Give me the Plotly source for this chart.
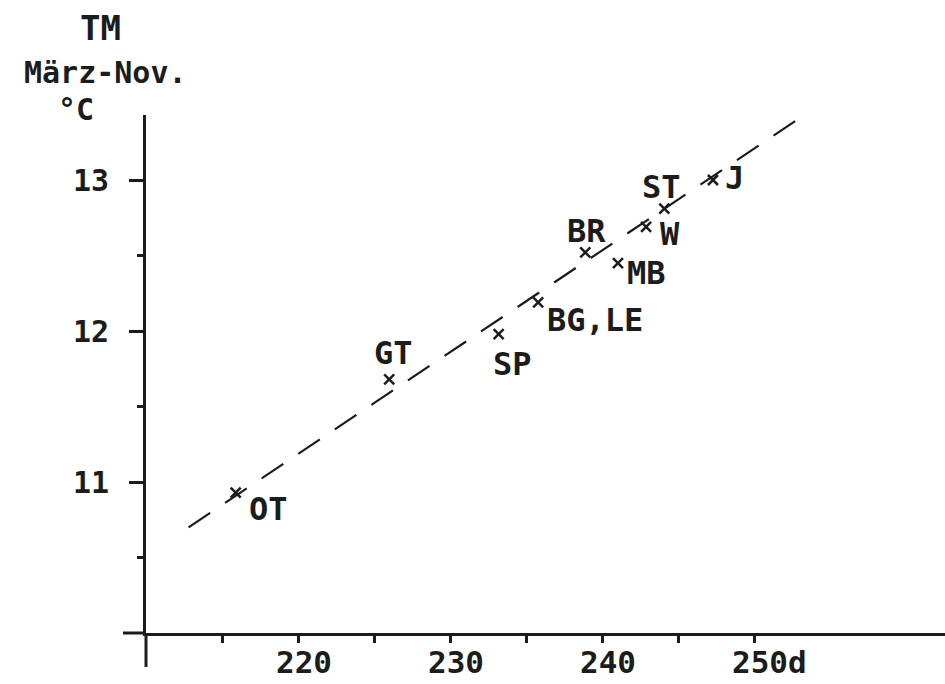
import plotly.graph_objects as go

# ---- data ----
stations = ["OT", "GT", "SP", "BG,LE", "BR", "MB", "W", "ST", "J"]
days = [215.9, 226.0, 233.2, 235.8, 238.9, 241.05, 242.9, 244.1, 247.3]
temp = [10.93, 11.68, 11.98, 12.19, 12.52, 12.45, 12.69, 12.81, 13.00]

fit_days = [212.8, 253.6]
fit_temp = [10.70, 13.45]

x_tickvals = [215, 220, 225, 230, 235, 240, 245, 250]
x_ticktext = ["", "220", "", "230", "", "240", "", "\u00a0250d"]
y_tickvals = [11, 12, 13]
y_ticktext = ["11", "12", "13"]
y_minor = [10.5, 11.5, 12.5]

# ---- styling ----
FONT = "DejaVu Sans Mono"
INK = "#1c1c1c"
# (xanchor, xshift, yshift) for each station label
label_pos = [
    ("left", 11, -16),
    ("center", 4, 26),
    ("center", 14, -30),
    ("left", 7, -18),
    ("center", 1, 21),
    ("left", 7, -10),
    ("left", 12, -7),
    ("center", -3, 22),
    ("left", 10, 2),
]

W, H = 945, 684
ml, mb, mt, mr = 146, 51, 115, 0
pw, ph = W - ml - mr, H - mt - mb
xpx = 15.2
ypx = 151.0
xr = [210, 210 + pw / xpx]
yr = [10, 10 + ph / ypx]

fig = go.Figure()

fig.add_trace(go.Scatter(
    x=fit_days, y=fit_temp, mode="lines",
    line=dict(color=INK, width=2.2, dash="26px,18px"),
    hoverinfo="skip", showlegend=False,
))

fig.add_trace(go.Scatter(
    x=days, y=temp, mode="markers",
    marker=dict(symbol="x-thin", size=10, line=dict(color=INK, width=2.5), color=INK),
    text=stations, showlegend=False,
))

for name, xv, yv, (xa, xs, ys) in zip(stations, days, temp, label_pos):
    fig.add_annotation(
        x=xv, y=yv, xref="x", yref="y", text=name, showarrow=False,
        xanchor=xa, yanchor="middle", xshift=xs, yshift=ys,
        font=dict(family=FONT, size=32, color=INK, weight="bold"),
    )

# axis title lines (top-left), given in page pixels (from top-left)
title_lines = [("TM", 100, 28, 34), ("März-Nov.", 105, 73, 30), ("°C", 76, 110, 30)]
for txt, px, py, fs in title_lines:
    fig.add_annotation(
        x=(px - ml) / pw, y=(H - py - mb) / ph, xref="paper", yref="paper",
        xanchor="center", yanchor="middle", text=txt, showarrow=False,
        font=dict(family=FONT, size=fs, color=INK, weight="bold"),
    )

# axis line extensions beyond the crossing point
fig.add_shape(type="line", xref="paper", yref="paper",
              x0=-23 / pw, x1=0, y0=0, y1=0, line=dict(color=INK, width=3))
fig.add_shape(type="line", xref="paper", yref="paper",
              x0=0, x1=0, y0=-34 / ph, y1=0, line=dict(color=INK, width=3))

fig.update_layout(
    width=W, height=H,
    margin=dict(l=ml, r=mr, t=mt, b=mb, pad=0, autoexpand=False),
    paper_bgcolor="white", plot_bgcolor="white",
    showlegend=False,
    xaxis=dict(
        range=xr, showgrid=False, zeroline=False, automargin=False,
        showline=True, linecolor=INK, linewidth=3,
        tickvals=x_tickvals, ticktext=x_ticktext,
        ticks="outside", ticklen=7, tickwidth=3, tickcolor=INK,
        ticklabelshift=6, ticklabelstandoff=-7,
        tickfont=dict(family=FONT, size=31, color=INK, weight="bold"),
    ),
    yaxis=dict(
        range=yr, showgrid=False, zeroline=False, automargin=False,
        showline=True, linecolor=INK, linewidth=3,
        tickvals=y_tickvals, ticktext=y_ticktext,
        ticks="outside", ticklen=14, tickwidth=3, tickcolor=INK,
        ticklabelstandoff=14,
        tickfont=dict(family=FONT, size=30, color=INK, weight="bold"),
        minor=dict(tickvals=y_minor, ticks="outside", ticklen=6,
                   tickwidth=3, tickcolor=INK),
    ),
)

fig.write_html("out.html")
